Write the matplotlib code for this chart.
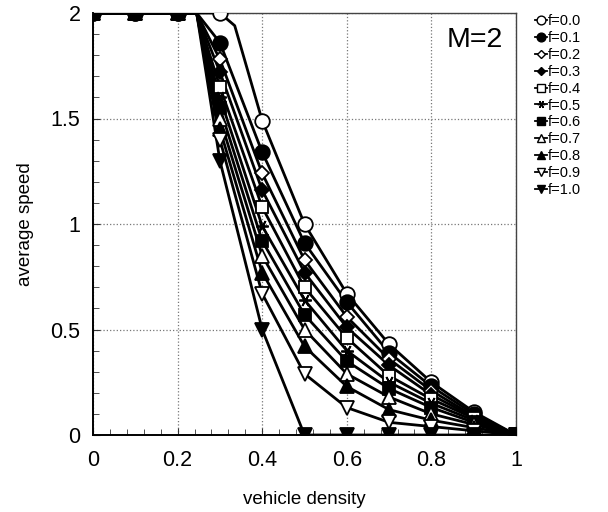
import numpy as np
import matplotlib.pyplot as plt
from matplotlib.ticker import MultipleLocator

plt.rcParams['font.family'] = ['Liberation Sans', 'DejaVu Sans']

# density values where markers are drawn
density = [0.0, 0.1, 0.2, 0.3, 0.4, 0.5, 0.6, 0.7, 0.8, 0.9, 1.0]
f_values = [0.0, 0.1, 0.2, 0.3, 0.4, 0.5, 0.6, 0.7, 0.8, 0.9, 1.0]

# average speed per f
speed_f00 = [2, 2, 2, 2.00, 1.49, 1.00, 0.67, 0.43, 0.25, 0.11, 0]
speed_f01 = [2, 2, 2, 1.86, 1.34, 0.91, 0.63, 0.39, 0.23, 0.10, 0]
speed_f02 = [2, 2, 2, 1.78, 1.24, 0.83, 0.56, 0.36, 0.21, 0.09, 0]
speed_f03 = [2, 2, 2, 1.72, 1.16, 0.77, 0.51, 0.33, 0.19, 0.085, 0]
speed_f04 = [2, 2, 2, 1.65, 1.08, 0.70, 0.46, 0.28, 0.17, 0.08, 0]
speed_f05 = [2, 2, 2, 1.60, 0.99, 0.64, 0.40, 0.25, 0.15, 0.07, 0]
speed_f06 = [2, 2, 2, 1.55, 0.92, 0.57, 0.35, 0.22, 0.13, 0.06, 0]
speed_f07 = [2, 2, 2, 1.50, 0.85, 0.50, 0.29, 0.18, 0.10, 0.05, 0]
speed_f08 = [2, 2, 2, 1.45, 0.77, 0.42, 0.23, 0.12, 0.07, 0.035, 0]
speed_f09 = [2, 2, 2, 1.40, 0.67, 0.29, 0.13, 0.06, 0.04, 0.02, 0]
speed_f10 = [2, 2, 2, 1.30, 0.50, 0.00, 0.00, 0.00, 0.00, 0.00, 0]
speeds = [speed_f00, speed_f01, speed_f02, speed_f03, speed_f04, speed_f05,
          speed_f06, speed_f07, speed_f08, speed_f09, speed_f10]

# where each curve leaves the free-flow speed (density, speed)
knee = [(0.335, 1.94)] + [(0.245, 2.0)] * 10

markers = ['o', 'o', 'D', 'D', 's', (6, 2, 90), 's', '^', '^', 'v', 'v']
filled = [False, True, False, True, False, True, True, False, True, False, True]
msizes = [10.5, 10.5, 7.5, 7.5, 8.5, 9, 8.5, 9.5, 9.5, 10, 10]

fig = plt.figure(figsize=(6.08, 5.12), dpi=100)
ax = fig.add_axes([93 / 608, 77 / 512, 423 / 608, 422 / 512])

for i, f in enumerate(f_values):
    x = list(density)
    y = list(speeds[i])
    kx, ky = knee[i]
    j = int(np.searchsorted(x, kx))
    lx = x[:j] + [kx] + x[j:]
    ly = y[:j] + [ky] + y[j:]
    ax.plot(lx, ly, color='black', lw=2.0, zorder=3 + i * 0.01)
    fc = 'black' if filled[i] else 'white'
    ax.plot(density, speeds[i], ls='none', marker=markers[i], ms=msizes[i],
            mfc=fc, mec='black', mew=1.3, zorder=4 + i * 0.01)
    # legend handle
    ax.plot([], [], color='black', lw=1.3, marker=markers[i], ms=msizes[i] * 0.6,
            mfc=fc, mec='black', mew=1.0, label='f=%.1f' % f)

ax.set_xlim(0, 1)
ax.set_ylim(0, 2)
ax.xaxis.set_major_locator(MultipleLocator(0.2))
ax.xaxis.set_minor_locator(MultipleLocator(0.04))
ax.yaxis.set_major_locator(MultipleLocator(0.5))
ax.yaxis.set_minor_locator(MultipleLocator(0.1))
ax.set_xticks([0, 0.2, 0.4, 0.6, 0.8, 1.0])
ax.set_xticklabels(['0', '0.2', '0.4', '0.6', '0.8', '1'])
ax.set_yticks([0, 0.5, 1.0, 1.5, 2.0])
ax.set_yticklabels(['0', '0.5', '1', '1.5', '2'])

ax.grid(True, which='major', ls=':', color='#777777', lw=0.9)
ax.tick_params(which='both', direction='in', top=False, right=False,
               labelsize=15.5, color='#333333')
ax.tick_params(axis='x', which='major', pad=11, length=5)
ax.tick_params(axis='y', which='major', pad=9, length=5)
ax.tick_params(which='minor', length=4)

for side in ['left', 'bottom']:
    ax.spines[side].set_linewidth(1.4)
for side in ['top', 'right']:
    ax.spines[side].set_linewidth(1.0)
    ax.spines[side].set_color('#444444')

ax.set_xlabel('vehicle density', fontsize=13.5, labelpad=14)
ax.set_ylabel('average speed', fontsize=13.5, labelpad=12)

ax.text(0.837, 1.87, 'M=2', fontsize=20.5, va='center', ha='left')

fig.legend(loc='upper left', bbox_to_anchor=(535 / 608, 1 - 14 / 512),
           frameon=False, fontsize=10.5, handlelength=0.8, handletextpad=0.1,
           labelspacing=0.2, borderpad=0, borderaxespad=0)

fig.savefig('out.png', dpi=100)
